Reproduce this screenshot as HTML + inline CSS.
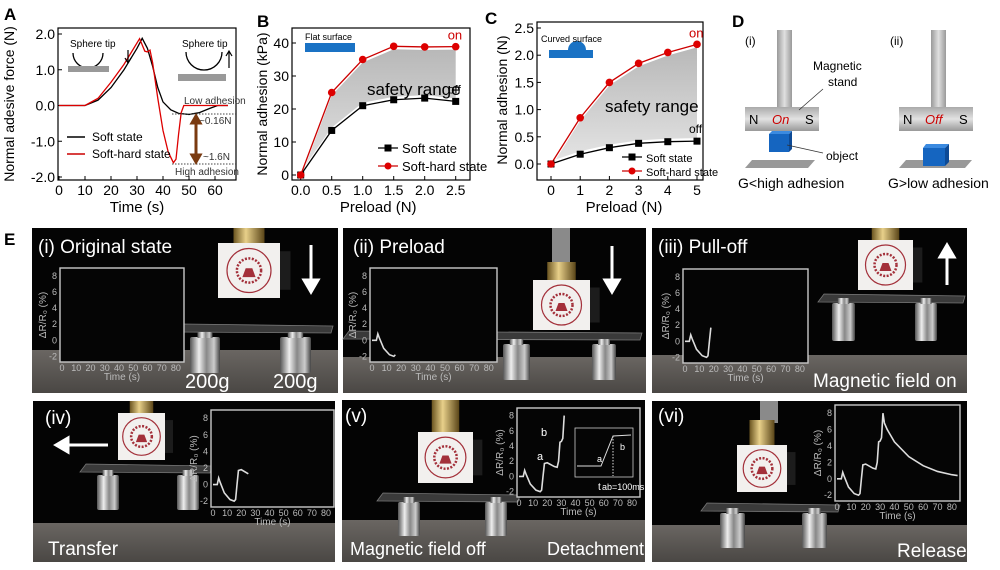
<!DOCTYPE html>
<html><head><meta charset="utf-8"><style>
html,body{margin:0;padding:0;background:#fff;}
svg{display:block;font-family:"Liberation Sans",Arial,sans-serif;}
</style></head><body>
<svg id="fig" width="1000" height="570" viewBox="0 0 1000 570" xmlns="http://www.w3.org/2000/svg">
<defs>
<linearGradient id="metal" x1="0" x2="1" y1="0" y2="0"><stop offset="0" stop-color="#555"/><stop offset="0.3" stop-color="#eee"/><stop offset="0.55" stop-color="#888"/><stop offset="0.8" stop-color="#ccc"/><stop offset="1" stop-color="#444"/></linearGradient>
<linearGradient id="gold" x1="0" x2="1"><stop offset="0" stop-color="#6a5420"/><stop offset="0.4" stop-color="#e8d08a"/><stop offset="1" stop-color="#5a4518"/></linearGradient>
<linearGradient id="floor" x1="0" x2="0" y1="0" y2="1"><stop offset="0" stop-color="#6a6662"/><stop offset="1" stop-color="#4a4744"/></linearGradient>
<linearGradient id="shade" x1="0" x2="0" y1="0" y2="1"><stop offset="0" stop-color="#b8b8b8"/><stop offset="1" stop-color="#e6e6e6"/></linearGradient>
<linearGradient id="col" x1="0" x2="1"><stop offset="0" stop-color="#999"/><stop offset="0.5" stop-color="#e0e0e0"/><stop offset="1" stop-color="#999"/></linearGradient>
<linearGradient id="mag" x1="0" x2="0" y1="0" y2="1"><stop offset="0" stop-color="#aaa"/><stop offset="0.5" stop-color="#e2e2e2"/><stop offset="1" stop-color="#999"/></linearGradient>
</defs>

<text x="4" y="20" font-size="17" font-weight="bold">A</text>
<text x="257" y="27" font-size="17" font-weight="bold">B</text>
<text x="485" y="24" font-size="17" font-weight="bold">C</text>
<text x="732" y="27" font-size="17" font-weight="bold">D</text>
<text x="4" y="245" font-size="17" font-weight="bold">E</text>

<g id="chartA"></g>
<g id="chartB"></g>
<g id="chartC"></g>

<g font-size="10">
<text x="70" y="47">Sphere tip</text>
<path d="M73 53 A15 15 0 0 0 103 53" fill="none" stroke="#000" stroke-width="1.3"/>
<rect x="68" y="66" width="41" height="6" fill="#999"/>
<path d="M128 50 L128 62 M125 58 L128 63 L131 58" stroke="#000" fill="none" stroke-width="1.2"/>
<text x="182" y="47">Sphere tip</text>
<path d="M186 52 A18 18 0 0 0 222 52" fill="none" stroke="#000" stroke-width="1.3"/>
<rect x="178" y="74" width="48" height="7" fill="#999"/>
<path d="M229 68 L229 52 M226 56 L229 51 L232 56" stroke="#000" fill="none" stroke-width="1.2"/>
<text x="184" y="104" fill="#333">Low adhesion</text>
<line x1="172" y1="114" x2="236" y2="114" stroke="#444" stroke-dasharray="1.5,1.5"/>
<text x="199" y="124" fill="#333">~0.16N</text>
<line x1="172" y1="164" x2="236" y2="164" stroke="#444" stroke-dasharray="1.5,1.5"/>
<path d="M196 120 L196 158 M192 123 L196 116 L200 123 Z M192 155 L196 162 L200 155 Z" stroke="#7a3a10" stroke-width="3" fill="#7a3a10"/>
<text x="203" y="160" fill="#333">~1.6N</text>
<text x="175" y="175" fill="#333">High adhesion</text>
<line x1="67" y1="137" x2="85" y2="137" stroke="#000" stroke-width="1.5"/>
<text x="92" y="141" font-size="12">Soft state</text>
<line x1="67" y1="154" x2="85" y2="154" stroke="#c00" stroke-width="1.5"/>
<text x="92" y="158" font-size="12">Soft-hard state</text>
</g>

<g>
<text x="745" y="45" font-size="12">(i)</text>
<rect x="777" y="30" width="15" height="78" fill="url(#col)"/>
<rect x="745" y="107" width="74" height="24" fill="url(#mag)"/>
<text x="749" y="124" font-size="13">N</text>
<text x="772" y="124" font-size="13" fill="#c00" font-style="italic">On</text>
<text x="805" y="124" font-size="13">S</text>
<polygon points="745,168 752,160 815,160 808,168" fill="#999"/>
<rect x="769" y="134" width="20" height="18" fill="#1565c0"/>
<polygon points="769,134 772,131 792,131 789,134" fill="#3b8ae0"/><polygon points="789,134 792,131 792,149 789,152" fill="#0d4a96"/>
<text x="813" y="70" font-size="12">Magnetic</text>
<text x="828" y="86" font-size="12">stand</text>
<line x1="823" y1="89" x2="799" y2="110" stroke="#333" stroke-width="0.8"/>
<text x="826" y="160" font-size="12">object</text>
<line x1="823" y1="153" x2="787" y2="145" stroke="#333" stroke-width="0.8"/>
<text x="738" y="188" font-size="14">G&lt;high adhesion</text>

<text x="890" y="45" font-size="12">(ii)</text>
<rect x="931" y="30" width="15" height="78" fill="url(#col)"/>
<rect x="899" y="107" width="74" height="24" fill="url(#mag)"/>
<text x="903" y="124" font-size="13">N</text>
<text x="925" y="124" font-size="13" fill="#c00" font-style="italic">Off</text>
<text x="959" y="124" font-size="13">S</text>
<polygon points="899,168 906,160 972,160 965,168" fill="#999"/>
<rect x="923" y="148" width="22" height="18" fill="#1565c0"/>
<polygon points="923,148 926,144 949,144 945,148" fill="#3b8ae0"/><polygon points="945,148 949,144 949,162 945,166" fill="#0d4a96"/>
<text x="888" y="188" font-size="14">G&gt;low adhesion</text>
</g>

<g id="photos"></g>
</svg>

<script>
// ---------- Panel A data ----------
var aBlackT = [0,10,15,20,25,30,32,34,36,38,40,43,46,50,54,58,61,65];
var aBlackF = [0,0,0.15,0.5,1.0,1.6,1.88,1.6,1.1,0.5,0.1,-0.12,-0.22,-0.25,-0.2,-0.08,0,0];
var aRedT = [0,10,15,20,25,30,31,33,34,35,36,38,40,42,44,45,46,47,48,55,65];
var aRedF = [0,0,0.2,0.65,1.15,1.75,1.87,1.52,1.5,1.55,1.2,0.2,-0.7,-1.3,-1.6,-1.5,-0.8,-0.2,0,0,0];
var aXTicks = [0,10,20,30,40,50,60];
var aYTicks = [2.0,1.0,0.0,-1.0,-2.0];
var aYTickLabels = ["2.0","1.0","0.0","-1.0","-2.0"];
// ---------- Panel B data ----------
var bPreload = [0,0.5,1.0,1.5,2.0,2.5];
var bSoft = [0,13.5,21,22.8,23.3,22.3];
var bSoftHard = [0,25,35,39,38.8,38.9];
var bXTicks = [0,0.5,1.0,1.5,2.0,2.5];
var bYTicks = [0,10,20,30,40];
// ---------- Panel C data ----------
var cPreload = [0,1,2,3,4,5];
var cSoft = [0,0.18,0.3,0.38,0.41,0.42];
var cSoftHard = [0,0.85,1.5,1.85,2.05,2.2];
var cXTicks = [0,1,2,3,4,5];
var cYTicks = [0,0.5,1.0,1.5,2.0,2.5];
// ---------- Panel E inset data ----------
var eTime = [0,3,4,5,8,12,15,16,17,18,20,25,27,28,29,30,31,32,33,35,40,50,60,70,80,84];
var eResp = [0,0,0.8,0.3,-1,-1.8,-2,-1.8,0,1.7,1.8,1.3,1.2,2,4.5,4.6,5,8,6.8,6,4.5,2.7,1.6,0.9,0.5,0.4];
var eCutoff = [0,16,18.5,26,32.5,84];
var eXTicks = [0,10,20,30,40,50,60,70,80];
var eYTicks = [-2,0,2,4,6,8];

var NS = "http://www.w3.org/2000/svg";
function el(tag, attrs, parent){var e=document.createElementNS(NS,tag);for(var k in attrs)e.setAttribute(k,attrs[k]);parent.appendChild(e);return e;}
function txt(s, attrs, parent){var e=el("text",attrs,parent);e.textContent=s;return e;}
function lin(d0,d1,r0,r1){return function(v){return r0+(v-d0)*(r1-r0)/(d1-d0);};}
function pathD(xs,ys,fx,fy){var d="";for(var i=0;i<xs.length;i++)d+=(i?"L":"M")+fx(xs[i]).toFixed(2)+" "+fy(ys[i]).toFixed(2);return d;}

function frame(g,x0,y0,x1,y1){var r=el("rect",{x:x0,y:y0,width:x1-x0,height:y1-y0,fill:"none",stroke:"#000","stroke-width":1.2},g);

}

function axes(g,fx,fy,xt,xl,yt,yl,yb,xTitle,yTitle,ytx,yTitleX,yc){
 for(var i=0;i<xt.length;i++){var X=fx(xt[i]);el("line",{x1:X,x2:X,y1:yb,y2:yb-4,stroke:"#000"},g);
  var t=txt(xl[i],{x:X,y:yb+15,"font-size":14,"text-anchor":"middle"},g);
  
  }
 for(var j=0;j<yt.length;j++){var Y=fy(yt[j]);el("line",{x1:ytx,x2:ytx+4,y1:Y,y2:Y,stroke:"#000"},g);
  var t2=txt(yl[j],{x:ytx-3,y:Y+5,"font-size":14,"text-anchor":"end"},g);
  
  }
 var xtt=txt(xTitle,{x:(fx(xt[0])+fx(xt[xt.length-1]))/2,y:yb+32,"font-size":15,"text-anchor":"middle"},g);
 
 
 var ytt=txt(yTitle,{x:yTitleX,y:yc,"font-size":14,"text-anchor":"middle",transform:"rotate(-90 "+yTitleX+" "+yc+")"},g);
 
 
}

(function(){
 var g=document.getElementById("chartA");
 var fx=lin(0,60,59,215), fy=lin(2,-2,34,177);
 frame(g,58,28,236,180);
 axes(g,fx,fy,aXTicks,aXTicks.map(String),aYTicks,aYTickLabels,180,"Time (s)","Normal adesive force (N)",58,14,104);
 var pb=el("path",{d:pathD(aBlackT,aBlackF,fx,fy),fill:"none",stroke:"#000","stroke-width":1.3},g);
 
 
 var pr=el("path",{d:pathD(aRedT,aRedF,fx,fy),fill:"none",stroke:"#d00","stroke-width":1.3},g);
 
 
})();

function adhesionChart(id,X,soft,hard,xt,xl,yt,yl,fx,fy,box,yTitle,opts){
 var g=document.getElementById(id);
 frame(g,box[0],box[1],box[2],box[3]);
 var d=pathD(X,hard,fx,function(v){return fy(v)+3;});
 for(var i=X.length-1;i>=0;i--)d+="L"+fx(X[i]).toFixed(2)+" "+(fy(soft[i])-3).toFixed(2);
 var sh=el("path",{d:d+"Z",fill:"url(#shade)"},g);
 
 
 axes(g,fx,fy,xt,xl,yt,yl,box[3],"Preload (N)",yTitle,box[0],opts.ytitx,opts.ytity);
 var ls=el("path",{d:pathD(X,soft,fx,fy),fill:"none",stroke:"#000","stroke-width":1.3},g);
 
 
 var lh=el("path",{d:pathD(X,hard,fx,fy),fill:"none",stroke:"#c00","stroke-width":1.3},g);
 
 
 for(var k=0;k<X.length;k++){
  var m=el("rect",{x:fx(X[k])-3.5,y:fy(soft[k])-3.5,width:7,height:7,fill:"#000"},g);
  
  
  var c=el("circle",{cx:fx(X[k]),cy:fy(hard[k]),r:3.8,fill:"#d00"},g);
  
  
 }
 var n=X.length-1;
 var on=txt("on",{x:fx(X[n])-8,y:fy(hard[n])-7,"font-size":13,fill:"#c00"},g);
 
 
 var off=txt("off",{x:fx(X[n])-8,y:fy(soft[n])-8,"font-size":12},g);
 
 
 var sr=txt("safety range",{x:opts.srx,y:opts.sry,"font-size":17},g);
 
 
 var lx=opts.lx, ly=opts.ly;
 el("line",{x1:lx,x2:lx+20,y1:ly,y2:ly,stroke:"#000","stroke-width":1.3},g);
 el("rect",{x:lx+6.5,y:ly-3.5,width:7,height:7,fill:"#000"},g);
 var t1=txt("Soft state",{x:lx+24,y:ly+5,"font-size":opts.lf},g);
 
 
 el("line",{x1:lx,x2:lx+20,y1:ly+opts.lg,y2:ly+opts.lg,stroke:"#c00","stroke-width":1.3},g);
 el("circle",{cx:lx+10,cy:ly+opts.lg,r:3.5,fill:"#d00"},g);
 var t2=txt("Soft-hard state",{x:lx+24,y:ly+opts.lg+5,"font-size":opts.lf},g);
 
 
 return g;
}
(function(){
 var g=adhesionChart("chartB",bPreload,bSoft,bSoftHard,bXTicks,bXTicks.map(function(v){return v.toFixed(1);}),bYTicks,bYTicks.map(String),
  lin(0,2.5,300.7,455.7),lin(0,40,175,43),[292,28,470,180],"Normal adhesion (kPa)",{ytitx:267,ytity:104,srx:367,sry:95,lx:378,ly:148,lg:18,lf:13});
 var r=el("rect",{x:305,y:43,width:50,height:9,fill:"#1a72c4"},g);
 
 
 var t=txt("Flat surface",{x:305,y:40,"font-size":9},g);
 
 
})();
(function(){
 var g=adhesionChart("chartC",cPreload,cSoft,cSoftHard,cXTicks,cXTicks.map(String),cYTicks,cYTicks.map(function(v){return v.toFixed(1);}),
  lin(0,5,551,697),lin(0,2.5,164,28),[537,22,703,180],"Normal adhesion (N)",{ytitx:507,ytity:100,srx:605,sry:112,lx:622,ly:157,lg:14,lf:11});
 var r=el("path",{d:"M549 50 L568 50 A9 9 0 0 1 586 50 L593 50 L593 58 L549 58 Z",fill:"#1a72c4"},g);
 
 
 var t=txt("Curved surface",{x:541,y:42,"font-size":9},g);
 
 
})();

var P=document.getElementById("photos");
function photo(name,x,y,w,h,floorY){
 var g=el("g",{},P);
 
 
 el("rect",{x:x,y:y,width:w,height:h,fill:"#040404"},g);
 el("rect",{x:x,y:floorY,width:w,height:y+h-floorY,fill:"url(#floor)"},g);
 return g;
}
function weight(g,x,y,w,h){
 var r=el("rect",{x:x,y:y,width:w,height:h,fill:"url(#metal)",rx:2},g);
 
 
 el("rect",{x:x+w*0.25,y:y-5,width:w*0.5,height:6,fill:"url(#metal)"},g);
}
function plate(g,x0,x1,y){
 var p=el("polygon",{points:x0+","+(y+5)+" "+(x0+6)+","+(y-3)+" "+x1+","+(y-1)+" "+(x1-2)+","+(y+6),fill:"#3a3a3a",stroke:"#777","stroke-width":0.8},g);
 
 
}
function gripper(g,x,y,w,h,top){
 el("rect",{x:x+w*0.25,y:top,width:w*0.5,height:y-top,fill:"url(#gold)"},g);
 el("rect",{x:x+w,y:y+h*0.15,width:w*0.17,height:h*0.7,fill:"#1c1c1c"},g);
 var b=el("rect",{x:x,y:y,width:w,height:h,fill:"#f2f0ee"},g);
 
 
 var cx=x+w/2, cy=y+h/2, r=Math.min(w,h)*0.4;
 el("circle",{cx:cx,cy:cy,r:r,fill:"none",stroke:"#a3303a","stroke-width":1.2},g);
 el("circle",{cx:cx,cy:cy,r:r*0.55,fill:"none",stroke:"#a3303a","stroke-width":2.5,"stroke-dasharray":"2,1.5"},g);
 el("path",{d:"M"+(cx-r*0.3)+" "+(cy+r*0.3)+"L"+(cx+r*0.3)+" "+(cy+r*0.3)+"L"+(cx+r*0.15)+" "+(cy-r*0.1)+"L"+(cx-r*0.15)+" "+(cy-r*0.1)+"Z",fill:"#a3303a"},g);
}
function label(g,s,x,y,size,name){
 var t=txt(s,{x:x,y:y,"font-size":size,fill:"#fff"},g);
 
 
}
function arrow(g,x1,y1,x2,y2){
 var dx=x2-x1,dy=y2-y1,L=Math.sqrt(dx*dx+dy*dy),ux=dx/L,uy=dy/L;
 var bx=x2-ux*12,by=y2-uy*12;
 var a=el("path",{d:"M"+x1+" "+y1+"L"+bx+" "+by+"M"+x2+" "+y2+"L"+(bx-uy*7)+" "+(by+ux*7)+"L"+(bx+uy*7)+" "+(by-ux*7)+"Z",stroke:"#fff","stroke-width":3,fill:"#fff"},g);
 
 
}
function inset(g,x0,y0,x1,y1,cut){
 var w=x1-x0,h=y1-y0;
 var fx=lin(0,80,x0+2,x0+0.935*w), fy=lin(8,-2,y0+0.085*h,y0+0.94*h);
 var f=el("rect",{x:x0,y:y0,width:w,height:h,fill:"#050505",stroke:"#c8c8c8","stroke-width":1.4},g);
 
 
 for(var i=0;i<eXTicks.length;i++){var t=txt(String(eXTicks[i]),{x:fx(eXTicks[i]),y:y1+9,"font-size":9,fill:"#bbb","text-anchor":"middle"},g);
  
  }
 for(var j=0;j<eYTicks.length;j++){var t2=txt(String(eYTicks[j]),{x:x0-3,y:fy(eYTicks[j])+3,"font-size":9,fill:"#bbb","text-anchor":"end"},g);
  
  }
 var xt=txt("Time (s)",{x:(x0+x1)/2,y:y1+18,"font-size":10,fill:"#bbb","text-anchor":"middle"},g);
 
 
 var yx=x0-14, yc=(y0+y1)/2;
 var yt=txt("ΔR/R₀ (%)",{x:yx,y:yc,"font-size":10,fill:"#bbb","text-anchor":"middle",transform:"rotate(-90 "+yx+" "+yc+")"},g);
 
 
 var ts=[],vs=[];
 for(var k=0;k<eTime.length;k++){ if(eTime[k]<=cut){ts.push(eTime[k]);vs.push(eResp[k]);} }
 if(ts.length>1){
  var p=el("path",{d:pathD(ts,vs,fx,fy),fill:"none",stroke:"#ddd","stroke-width":1.6},g);
  
  
 }
 return {fx:fx,fy:fy};
}

var g1=photo("photo-original-state",32,228,306,165,350);
plate(g1,178,333,327);
weight(g1,190,337,30,36);weight(g1,280,337,31,36);
gripper(g1,218,243,62,55,228);
arrow(g1,311,245,311,292);
inset(g1,60,268,184,362,eCutoff[0]);
label(g1,"(i) Original state",38,253,19,"label-original-state");
label(g1,"200g",185,388,20,"weight-label-1");
label(g1,"200g",273,388,20,"weight-label-2");

var g2=photo("photo-preload",343,228,303,165,357);
el("rect",{x:552,y:228,width:18,height:38,fill:"#8a8a8a"},g2);
plate(g2,343,642,334);
weight(g2,503,344,27,36);weight(g2,592,344,24,36);
gripper(g2,533,280,57,50,262);
arrow(g2,612,246,612,292);
inset(g2,370,268,497,362,eCutoff[1]);
label(g2,"(ii) Preload",353,253,19,"label-preload");

var g3=photo("photo-pull-off",652,228,315,165,355);
plate(g3,818,965,297);
weight(g3,832,303,23,38);weight(g3,915,303,22,38);
gripper(g3,858,240,55,50,228);
arrow(g3,947,285,947,245);
inset(g3,683,269,808,363,eCutoff[2]);
label(g3,"(iii) Pull-off",658,253,19,"label-pull-off");
label(g3,"Magnetic field on",813,387,19,"label-magnetic-field-on");

var g4=photo("photo-transfer",33,401,302,161,523);
plate(g4,80,212,467);
weight(g4,97,475,22,35);weight(g4,177,475,22,35);
gripper(g4,118,413,47,47,401);
arrow(g4,108,445,56,445);
inset(g4,211,410,334,507,eCutoff[3]);
label(g4,"(iv)",45,424,19,"label-transfer-step");
label(g4,"Transfer",48,555,19,"label-transfer");

var g5=photo("photo-detachment",342,400,303,162,520);
plate(g5,377,520,496);
weight(g5,398,502,22,34);weight(g5,485,502,22,34);
gripper(g5,418,432,55,51,400);
inset(g5,517,408,640,497,eCutoff[4]);
var sub=el("rect",{x:575,y:428,width:58,height:49,fill:"#050505",stroke:"#ccc","stroke-width":0.8},g5);


el("path",{d:"M577 466 L601 466 L613 436 L631 435",fill:"none",stroke:"#ddd","stroke-width":1},g5);
el("line",{x1:613,y1:436,x2:613,y2:476,stroke:"#ddd","stroke-dasharray":"1.5,1.5"},g5);
label(g5,"a",597,462,9,"point-a-zoom");label(g5,"b",620,450,9,"point-b-zoom");
label(g5,"a",537,460,11,"point-a");label(g5,"b",541,436,11,"point-b");
label(g5,"t",598,490,10,"tab-label");
label(g5,"ab=100ms",602,490,9,"tab-value");
label(g5,"(v)",345,422,19,"label-step-v");
label(g5,"Magnetic field off",350,555,18,"label-magnetic-field-off");
label(g5,"Detachment",547,555,18,"label-detachment");

var g6=photo("photo-release",652,401,315,161,525);
el("rect",{x:760,y:401,width:18,height:22,fill:"#8a8a8a"},g6);
plate(g6,701,840,506);
weight(g6,720,513,25,35);weight(g6,802,513,25,35);
gripper(g6,737,445,50,47,420);
inset(g6,835,405,960,501,eCutoff[5]);
label(g6,"(vi)",658,422,19,"label-step-vi");
label(g6,"Release",897,557,19,"label-release");
</script>
</body></html>
